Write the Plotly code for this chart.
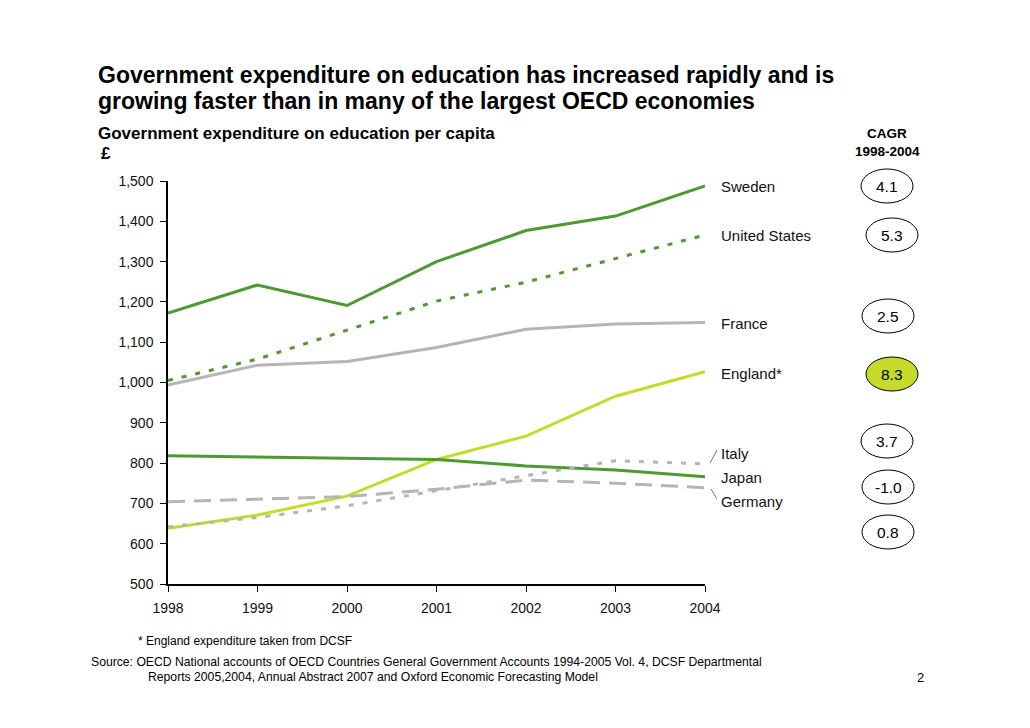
import plotly.graph_objects as go

years = [1998, 1999, 2000, 2001, 2002, 2003, 2004]
sweden = [1172, 1242, 1191, 1300, 1377, 1413, 1488]
united_states = [1005, 1058, 1130, 1202, 1249, 1308, 1366]
france = [994, 1043, 1052, 1087, 1132, 1145, 1149]
england = [638, 671, 718, 809, 867, 966, 1027]
japan = [818, 815, 811, 809, 793, 783, 766]
germany = [704, 711, 717, 735, 758, 750, 739]
italy = [642, 665, 694, 731, 768, 806, 798]

y_ticks = [500, 600, 700, 800, 900, 1000, 1100, 1200, 1300, 1400, 1500]
y_tick_labels = ["500", "600", "700", "800", "900", "1,000", "1,100", "1,200", "1,300", "1,400", "1,500"]

series_names = ["Sweden", "United States", "France", "England*", "Italy", "Japan", "Germany"]
cagr_values = ["4.1", "5.3", "2.5", "8.3", "3.7", "-1.0", "0.8"]

GREEN = "#4c9a30"
LIME = "#c6da2a"
GREY = "#b5b5b5"
FONT = "Liberation Sans, Arial, sans-serif"

OFF = 8  # page body margin
W, H = 1030 - OFF, 728 - OFF
L, R, T, B = 168 - OFF, 705 - OFF, 181 - OFF, 584 - OFF  # plot area in figure pixels


def px(x):
    return (x - OFF - L) / (R - L)


def py(y):
    return (B - (y - OFF)) / (B - T)


fig = go.Figure()

traces = [
    ("Sweden", sweden, GREEN, "solid"),
    ("United States", united_states, GREEN, "5px,9px"),
    ("France", france, GREY, "solid"),
    ("England*", england, LIME, "solid"),
    ("Japan", japan, GREEN, "solid"),
    ("Germany", germany, GREY, "17px,9px"),
    ("Italy", italy, GREY, "5px,9px"),
]
for name, vals, col, dash in traces:
    fig.add_trace(go.Scatter(x=years, y=vals, mode="lines", name=name,
                             line=dict(color=col, width=3, dash=dash),
                             showlegend=False, hoverinfo="x+y+name"))

annotations = []
shapes = []


def txt(text, x, y, size, anchor="left", bold=False, color="#000"):
    annotations.append(dict(text=f"<b>{text}</b>" if bold else text, x=px(x), y=py(y),
                            xref="paper", yref="paper", xanchor=anchor, yanchor="middle",
                            showarrow=False, font=dict(family=FONT, size=size, color=color)))


# Titles
txt("Government expenditure on education has increased rapidly and is", 96, 75, 23, bold=True)
txt("growing faster than in many of the largest OECD economies", 96, 101, 23, bold=True)
txt("Government expenditure on education per capita", 96, 133, 17, bold=True)
txt("£", 99, 153, 17, bold=True)
txt("CAGR", 887, 133, 13.5, anchor="center", bold=True)
txt("1998-2004", 887, 151, 13.5, anchor="center", bold=True)

# Series labels
label_y = [186, 235, 323, 373, 453, 477, 501]
for name, ly in zip(series_names, label_y):
    txt(name, 719, ly, 15, color="#111")

# leader lines for Italy and Germany
shapes.append(dict(type="line", xref="paper", yref="paper", x0=px(710), y0=py(463), x1=px(717), y1=py(450),
                   line=dict(color="#777", width=1)))
shapes.append(dict(type="line", xref="paper", yref="paper", x0=px(711), y0=py(489), x1=px(717), y1=py(499),
                   line=dict(color="#777", width=1)))

# CAGR ellipses
circle_pos = [(887, 186), (892, 235), (888, 316), (892, 374), (887, 441), (888, 487), (888, 532)]
for val, (cx, cy) in zip(cagr_values, circle_pos):
    fill = LIME if val == "8.3" else "white"
    shapes.append(dict(type="circle", xref="paper", yref="paper",
                       x0=px(cx - 26), x1=px(cx + 26), y0=py(cy + 17), y1=py(cy - 17),
                       line=dict(color="#000", width=1), fillcolor=fill, layer="below"))
    txt(val, cx, cy, 15.5, anchor="center")

# Footnotes
txt("* England expenditure taken from DCSF", 136, 641, 12)
txt("Source: OECD National accounts of OECD Countries General Government Accounts 1994-2005 Vol. 4, DCSF Departmental",
    89, 662, 12.2)
txt("Reports 2005,2004, Annual Abstract 2007 and Oxford Economic Forecasting Model", 146, 677, 12.2)
txt("2", 920, 677, 13, anchor="center")

fig.update_layout(
    width=W, height=H, autosize=False,
    margin=dict(l=L, r=W - R, t=T, b=H - B, pad=0),
    paper_bgcolor="white", plot_bgcolor="white",
    font=dict(family=FONT, size=14, color="#111"),
    annotations=annotations, shapes=shapes,
    xaxis=dict(range=[1998, 2004], tickmode="array", tickvals=years, ticktext=[str(y) for y in years],
               showgrid=False, zeroline=False, showline=True, linecolor="#000", linewidth=1.5,
               ticks="outside", ticklen=6, tickcolor="#000", ticklabelstandoff=4,
               tickfont=dict(family=FONT, size=14, color="#111")),
    yaxis=dict(range=[500, 1500], tickmode="array", tickvals=y_ticks, ticktext=y_tick_labels,
               showgrid=False, zeroline=False, showline=True, linecolor="#000", linewidth=1.5,
               ticks="outside", ticklen=6, tickcolor="#000", ticklabelstandoff=4,
               tickfont=dict(family=FONT, size=14, color="#111")),
)

fig.write_html("out.html")
